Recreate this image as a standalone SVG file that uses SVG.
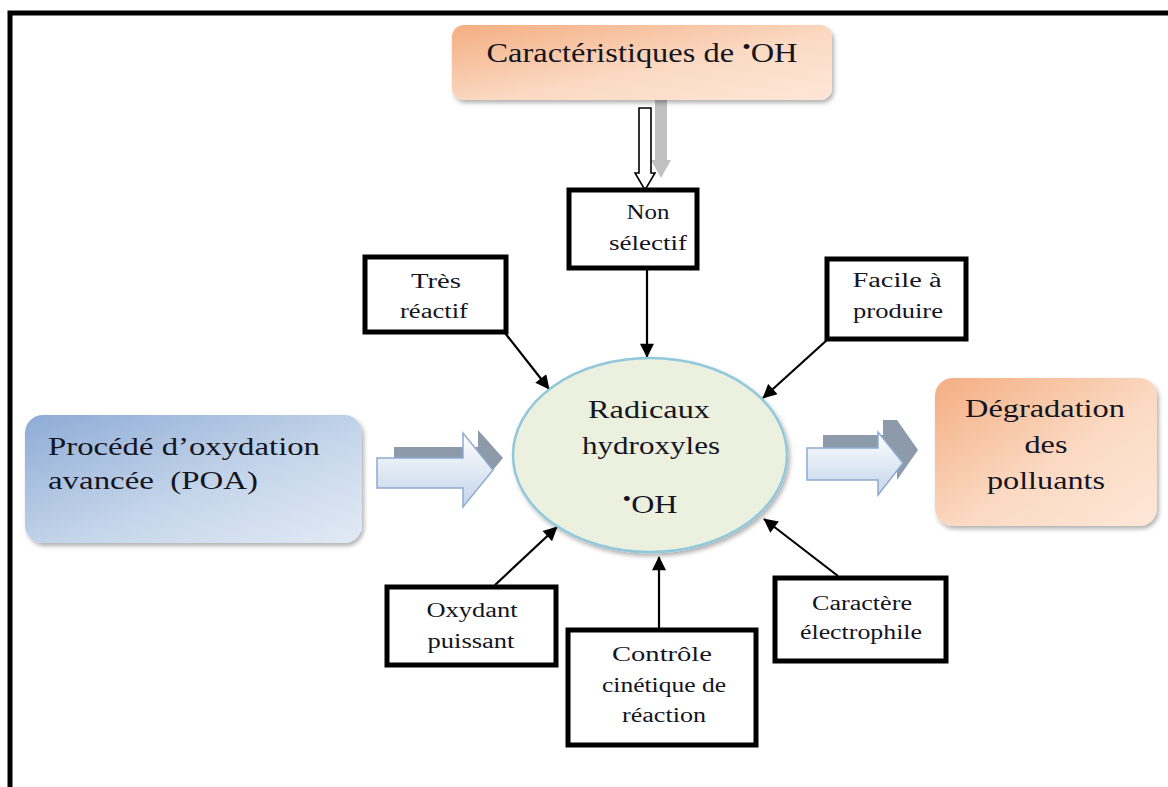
<svg xmlns="http://www.w3.org/2000/svg" width="1168" height="787" viewBox="0 0 1168 787">
  <defs>
    <linearGradient id="gOrange" x1="0" y1="0" x2="1" y2="1">
      <stop offset="0" stop-color="#f4ae82"/>
      <stop offset="0.55" stop-color="#fbd9c2"/>
      <stop offset="1" stop-color="#fde7d8"/>
    </linearGradient>
    <linearGradient id="gBlue" x1="0" y1="0" x2="1" y2="1">
      <stop offset="0" stop-color="#8eabd6"/>
      <stop offset="0.55" stop-color="#c4d5ea"/>
      <stop offset="1" stop-color="#e2eaf5"/>
    </linearGradient>
    <linearGradient id="gArrow" x1="0" y1="0" x2="0" y2="1">
      <stop offset="0" stop-color="#ffffff"/>
      <stop offset="1" stop-color="#c3d4ea"/>
    </linearGradient>
    <filter id="shadow" x="-10%" y="-10%" width="125%" height="130%">
      <feDropShadow dx="2" dy="3" stdDeviation="2" flood-color="#000" flood-opacity="0.3"/>
    </filter>
    <marker id="ahBig" viewBox="0 0 10 10" refX="9.5" refY="5" markerWidth="16" markerHeight="14" orient="auto" markerUnits="userSpaceOnUse">
      <path d="M0,0 L10,5 L0,10 z" fill="#000"/>
    </marker>
    <style>
      .t { font-family: "Liberation Serif", "Times New Roman", serif; fill: #15151f; text-anchor: middle; }
      .l { font-family: "Liberation Serif", "Times New Roman", serif; fill: #15151f; text-anchor: start; font-size: 26px; }
      .big { font-size: 26px; }
      .small { font-size: 20px; }
      .box { fill: #fff; stroke: #000; stroke-width: 5; }
      .conn { stroke: #000; stroke-width: 2.2; fill: none; marker-end: url(#ahBig); }
      .blockL { fill: url(#gArrow); stroke: #8eaad2; stroke-width: 1.5; }
      .blockD { fill: #8c9aaa; }
    </style>
  </defs>

  <!-- outer frame -->
  <rect x="10" y="13" width="1200" height="820" fill="none" stroke="#000" stroke-width="5"/>

  <!-- connectors -->
  <g id="connectors">
    <!-- hollow and grey arrows below the title -->
    <path d="M655,100 h12 v60 h4 l-10,18 l-10,-18 h4 z" fill="#c0c0c0"/>
    <path d="M639,108 h12 v65 h4 l-10,17 l-10,-17 h4 z" fill="#fff" stroke="#000" stroke-width="1.6"/>
    <line class="conn" x1="647" y1="268" x2="647" y2="357"/>
    <line class="conn" x1="505" y1="333" x2="549" y2="389"/>
    <line class="conn" x1="827" y1="340" x2="763" y2="398"/>
    <line class="conn" x1="495" y1="585" x2="557" y2="527"/>
    <line class="conn" x1="659" y1="628" x2="659" y2="557"/>
    <line class="conn" x1="838" y1="576" x2="764" y2="519"/>
    <!-- block arrows into and out of the ellipse -->
    <path class="blockD" d="M394,447 h84 v-17 l25,28 l-25,30 v-14 h-84 z"/>
    <path class="blockL" d="M377,458 h86 v-25 l30,37 l-30,37 v-19 h-86 z"/>
    <path class="blockD" d="M823,435 h60 v-15 h14 l21,30 l-21,30 v-12 h-74 z"/>
    <path class="blockL" d="M807,448 h71 v-16 l25,31 l-25,32 v-15 h-71 z"/>
  </g>

  <!-- title -->
  <g id="n-caracteristiques">
    <rect x="452" y="25" width="380" height="75" rx="12" fill="url(#gOrange)" filter="url(#shadow)"/>
    <text class="t" x="642" y="62" font-size="28" textLength="311" lengthAdjust="spacingAndGlyphs">Caractéristiques de <tspan font-size="21" dy="-8">•</tspan><tspan dy="8">OH</tspan></text>
  </g>

  <g id="n-non-selectif">
    <rect class="box" x="569" y="190" width="128" height="78"/>
    <text class="t small" x="648" y="219" textLength="43" lengthAdjust="spacingAndGlyphs">Non</text>
    <text class="t small" x="648" y="250" textLength="78" lengthAdjust="spacingAndGlyphs">sélectif</text>
  </g>

  <g id="n-tres-reactif">
    <rect class="box" x="365" y="257" width="141" height="75"/>
    <text class="t small" x="436" y="288" textLength="50" lengthAdjust="spacingAndGlyphs">Très</text>
    <text class="t small" x="434" y="318" textLength="68" lengthAdjust="spacingAndGlyphs">réactif</text>
  </g>

  <g id="n-facile">
    <rect class="box" x="827" y="259" width="139" height="80"/>
    <text class="t small" x="897" y="287" textLength="89" lengthAdjust="spacingAndGlyphs">Facile à</text>
    <text class="t small" x="898" y="318" textLength="90" lengthAdjust="spacingAndGlyphs">produire</text>
  </g>

  <g id="n-radicaux">
    <ellipse cx="650" cy="455" rx="137" ry="97" fill="#ebf1de" stroke="#92c8dc" stroke-width="2.5" filter="url(#shadow)"/>
    <text class="t big" x="649" y="418" textLength="122" lengthAdjust="spacingAndGlyphs">Radicaux</text>
    <text class="t big" x="651" y="454" textLength="138" lengthAdjust="spacingAndGlyphs">hydroxyles</text>
    <text class="t big" x="650" y="513" textLength="55" lengthAdjust="spacingAndGlyphs"><tspan font-size="20" dy="-7">•</tspan><tspan dy="7">OH</tspan></text>
  </g>

  <g id="n-poa">
    <rect x="25" y="415" width="337" height="128" rx="18" fill="url(#gBlue)" filter="url(#shadow)"/>
    <text class="l" x="48" y="455" textLength="272" lengthAdjust="spacingAndGlyphs">Procédé d’oxydation</text>
    <text class="l" x="48" y="489" textLength="210" lengthAdjust="spacingAndGlyphs" xml:space="preserve">avancée  (POA)</text>
  </g>

  <g id="n-degradation">
    <rect x="935" y="378" width="222" height="148" rx="18" fill="url(#gOrange)" filter="url(#shadow)"/>
    <text class="t big" x="1045" y="417" textLength="160" lengthAdjust="spacingAndGlyphs">Dégradation</text>
    <text class="t big" x="1046" y="453" textLength="43" lengthAdjust="spacingAndGlyphs">des</text>
    <text class="t big" x="1046" y="489" textLength="118" lengthAdjust="spacingAndGlyphs">polluants</text>
  </g>

  <g id="n-oxydant">
    <rect class="box" x="387" y="587" width="169" height="78"/>
    <text class="t small" x="472" y="617" textLength="91" lengthAdjust="spacingAndGlyphs">Oxydant</text>
    <text class="t small" x="471" y="648" textLength="87" lengthAdjust="spacingAndGlyphs">puissant</text>
  </g>

  <g id="n-controle">
    <rect class="box" x="568" y="630" width="188" height="115"/>
    <text class="t small" x="662" y="661" textLength="100" lengthAdjust="spacingAndGlyphs">Contrôle</text>
    <text class="t small" x="664" y="692" textLength="124" lengthAdjust="spacingAndGlyphs">cinétique de</text>
    <text class="t small" x="664" y="722" textLength="84" lengthAdjust="spacingAndGlyphs">réaction</text>
  </g>

  <g id="n-electrophile">
    <rect class="box" x="775" y="578" width="171" height="83"/>
    <text class="t small" x="862" y="610" textLength="100" lengthAdjust="spacingAndGlyphs">Caractère</text>
    <text class="t small" x="861" y="639" textLength="122" lengthAdjust="spacingAndGlyphs">électrophile</text>
  </g>
</svg>
